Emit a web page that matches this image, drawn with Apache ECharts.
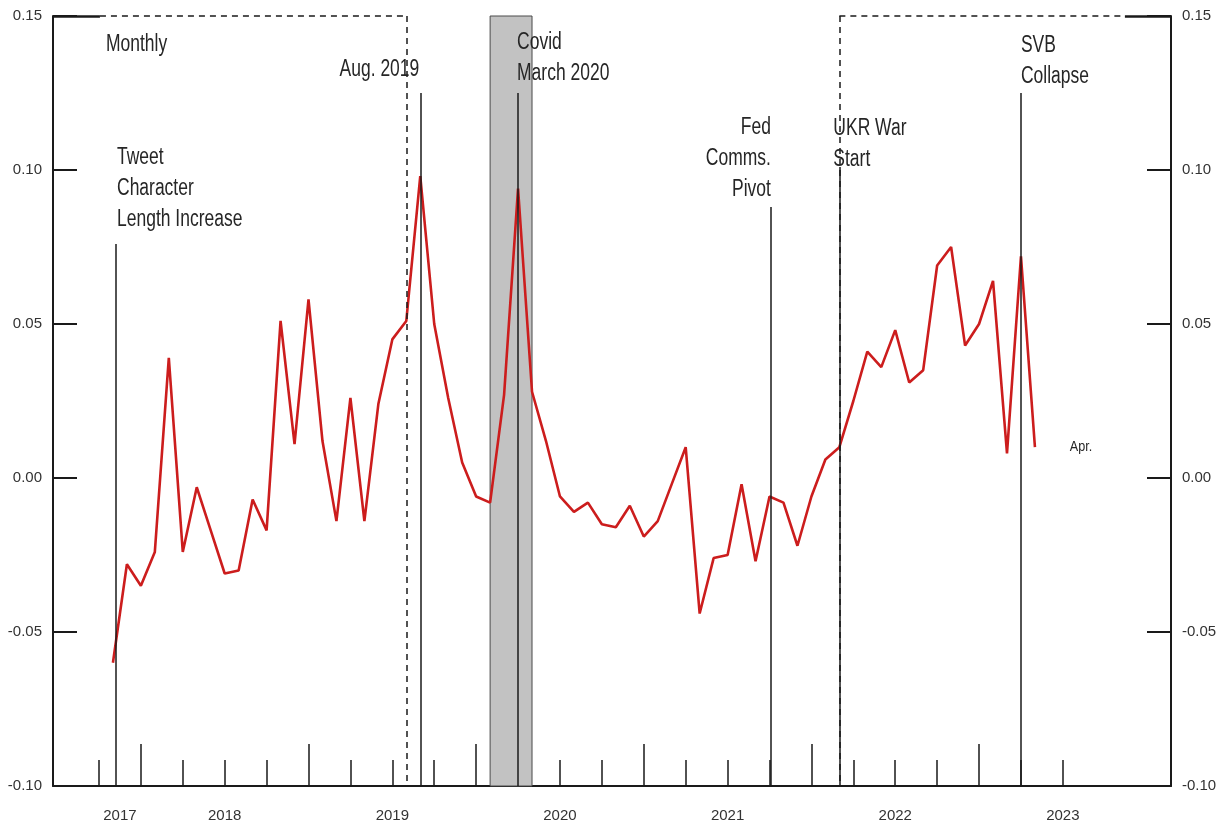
<!DOCTYPE html>
<html>
<head>
<meta charset="utf-8">
<script src="https://cdn.jsdelivr.net/npm/echarts@6/dist/echarts.min.js"></script>
<style>
  html, body { margin: 0; padding: 0; background: #fff; }
  #chart { width: 1226px; height: 830px; }
</style>
</head>
<body>
<div id="chart"></div>
<script>
// ---------------- DATA ----------------
// Monthly series, Oct 2017 .. Apr 2023
const firstMonth = '2017-10';
const values = [
  -0.060, -0.028, -0.035, -0.024, 0.039, -0.024, -0.003, -0.017, -0.031, -0.030,
  -0.007, -0.017, 0.051, 0.011, 0.058, 0.012, -0.014, 0.026, -0.014, 0.024,
  0.045, 0.051, 0.098, 0.050, 0.026, 0.005, -0.006, -0.008, 0.027, 0.094,
  0.028, 0.012, -0.006, -0.011, -0.008, -0.015, -0.016, -0.009, -0.019, -0.014,
  -0.002, 0.010, -0.044, -0.026, -0.025, -0.002, -0.027, -0.006, -0.008, -0.022,
  -0.006, 0.006, 0.010, 0.025, 0.041, 0.036, 0.048, 0.031, 0.035, 0.069,
  0.075, 0.043, 0.050, 0.064, 0.008, 0.072, 0.010
];

// Event annotations (x in months since Jan 2017)
const eventNames  = ['Tweet\nCharacter\nLength Increase', 'Aug. 2019', 'Covid\nMarch 2020', 'Fed\nComms.\nPivot', 'UKR War\nStart', 'SVB\nCollapse'];
const eventMonths = [9.22, 31, 38, 56.1, 61, 74];
const eventTops   = [0.076, 0.125, 0.125, 0.088, 0.101, 0.125];

// Covid shading and dashed "Monthly" boxes
const shadeMonths = [36, 39];
const boxMonths   = [30, 61];
const solidTopEnds = [8.07, 81.44];

// Axis range / ticks
const xRange = [4.71, 84.74];
const yRange = [-0.10, 0.15];
const yInterval = 0.05;
const quarterTicks = [8, 14, 17, 20, 26, 29, 32, 38, 41, 44, 50, 53, 56, 62, 65, 68, 74, 77];
const yearTicks = [11, 23, 35, 47, 59, 71];
const yearLabels = ['2017', '2018', '2019', '2020', '2021', '2022', '2023'];
const yearLabelPos = [9.5, 17, 29, 41, 53, 65, 77];

const textTitle = 'Monthly';
const titleAt = [8.5, 0.1406];
const endNote = 'Apr.';
const endNoteAt = [77.5, 0.010];

// ---------------- BUILD ----------------
const monthIndex = s => { const [y, m] = s.split('-').map(Number); return (y - 2017) * 12 + (m - 1); };
const m0 = monthIndex(firstMonth);
const seriesData = values.map((v, i) => [m0 + i, v]);

const FONT = "'Liberation Sans', Arial, Helvetica, sans-serif";
const TXT = '#262626';
const AX = '#1a1a1a';
const SQUEEZE = 0.76;

// layout of text annotations (not data)
const evLabelStyle = [
  { align: 'left',  dist: 9,  dx: 1 },
  { align: 'right', dist: 8,  dx: -1 },
  { align: 'left',  dist: 4,  dx: -1 },
  { align: 'right', dist: 2,  dx: 0 },
  { align: 'left',  dist: -8, dx: -6 },
  { align: 'left',  dist: 1,  dx: 0 }
];

const eventLines = eventMonths.map((m, i) => [
  { coord: [m, yRange[0]] }, { coord: [m, eventTops[i]] }
]);
const dashStyle = { type: [6, 5], color: AX, width: 1.5 };
const solidStyle = { type: 'solid', color: AX, width: 2.5 };
const boxLines = [
  [{ coord: [solidTopEnds[0], yRange[1]], lineStyle: dashStyle }, { coord: [boxMonths[0], yRange[1]] }],
  [{ coord: [boxMonths[0], yRange[1]], lineStyle: dashStyle }, { coord: [boxMonths[0], yRange[0]] }],
  [{ coord: [boxMonths[1], yRange[1]], lineStyle: dashStyle }, { coord: [solidTopEnds[1], yRange[1]] }],
  [{ coord: [boxMonths[1], yRange[1]], lineStyle: dashStyle }, { coord: [boxMonths[1], yRange[0]] }],
  [{ coord: [xRange[0], yRange[1]], lineStyle: solidStyle }, { coord: [solidTopEnds[0], yRange[1]] }],
  [{ coord: [solidTopEnds[1], yRange[1]], lineStyle: solidStyle }, { coord: [xRange[1], yRange[1]] }]
];

// annotation entries: [x, y, kind, index]
const annotations = eventMonths.map((m, i) => [m, eventTops[i], 0, i]);
annotations.push([titleAt[0], titleAt[1], 1, 0]);
annotations.push([endNoteAt[0], endNoteAt[1], 2, 0]);

function renderAnnotation(params, api) {
  const pt = api.coord([api.value(0), api.value(1)]);
  const kind = api.value(2), idx = api.value(3);
  if (kind === 0) {
    const st = evLabelStyle[idx];
    return {
      type: 'text', x: pt[0] + st.dx, y: pt[1] - st.dist, scaleX: SQUEEZE,
      style: { text: eventNames[idx], align: st.align, verticalAlign: 'bottom',
        fontFamily: FONT, fontSize: 23, lineHeight: 31, fill: TXT }
    };
  }
  if (kind === 1) {
    return {
      type: 'text', x: pt[0], y: pt[1], scaleX: SQUEEZE,
      style: { text: textTitle, align: 'left', verticalAlign: 'middle',
        fontFamily: FONT, fontSize: 23, fill: TXT }
    };
  }
  return {
    type: 'text', x: pt[0], y: pt[1], scaleX: 0.9,
    style: { text: endNote, align: 'left', verticalAlign: 'middle',
      fontFamily: FONT, fontSize: 14, fill: TXT }
  };
}

const yAxisCommon = {
  type: 'value', min: yRange[0], max: yRange[1], interval: yInterval,
  axisLine: { show: true, lineStyle: { color: AX, width: 2 } },
  axisTick: { show: true, inside: true, length: 24, lineStyle: { color: AX, width: 2 } },
  axisLabel: { formatter: v => v.toFixed(2), color: '#333', fontFamily: FONT, fontSize: 15, margin: 11 },
  splitLine: { show: false }
};

const option = {
  animation: false,
  backgroundColor: '#fff',
  grid: { left: 53, right: 55, top: 16, bottom: 44, containLabel: false },
  xAxis: [
    {
      type: 'value', min: xRange[0], max: xRange[1], position: 'bottom',
      axisLine: { show: true, onZero: false, lineStyle: { color: AX, width: 2 } },
      axisTick: { show: true, inside: true, length: 26, customValues: quarterTicks, lineStyle: { color: AX, width: 1.5 } },
      axisLabel: {
        show: true, customValues: yearLabelPos, margin: 22,
        formatter: v => { const k = yearLabelPos.indexOf(v); return k >= 0 ? yearLabels[k] : ''; },
        color: '#333', fontFamily: FONT, fontSize: 15
      },
      splitLine: { show: false }
    },
    {
      type: 'value', min: xRange[0], max: xRange[1], position: 'bottom', gridIndex: 0,
      axisLine: { show: false, onZero: false },
      axisTick: { show: true, inside: true, length: 42, customValues: yearTicks, lineStyle: { color: AX, width: 1.5 } },
      axisLabel: { show: false },
      splitLine: { show: false }
    }
  ],
  yAxis: [
    Object.assign({}, yAxisCommon, { position: 'left' }),
    Object.assign({}, yAxisCommon, { position: 'right' })
  ],
  series: [
    {
      type: 'line', data: [], silent: true, z: 1,
      markArea: {
        silent: true,
        itemStyle: { color: '#c2c2c2', borderColor: '#4a4a4a', borderWidth: 1 },
        data: [[{ coord: [shadeMonths[0], yRange[1]] }, { coord: [shadeMonths[1], yRange[0]] }]]
      }
    },
    {
      type: 'line', data: [], silent: true, z: 3,
      markLine: {
        silent: true, symbol: ['none', 'none'], animation: false,
        label: { show: false },
        lineStyle: { color: AX, width: 1.5, type: 'solid' },
        data: eventLines.concat(boxLines)
      }
    },
    {
      type: 'line', data: seriesData, symbol: 'none', z: 4, silent: true,
      lineStyle: { color: '#cc1d1d', width: 2.6 },
      itemStyle: { color: '#cc1d1d' }
    },
    {
      type: 'custom', coordinateSystem: 'cartesian2d', xAxisIndex: 0, yAxisIndex: 0,
      data: annotations, encode: { x: 0, y: 1 }, renderItem: renderAnnotation,
      silent: true, clip: false, z: 5
    }
  ]
};

const chart = echarts.init(document.getElementById('chart'), null, { renderer: 'canvas' });
chart.setOption(option);
</script>
</body>
</html>
